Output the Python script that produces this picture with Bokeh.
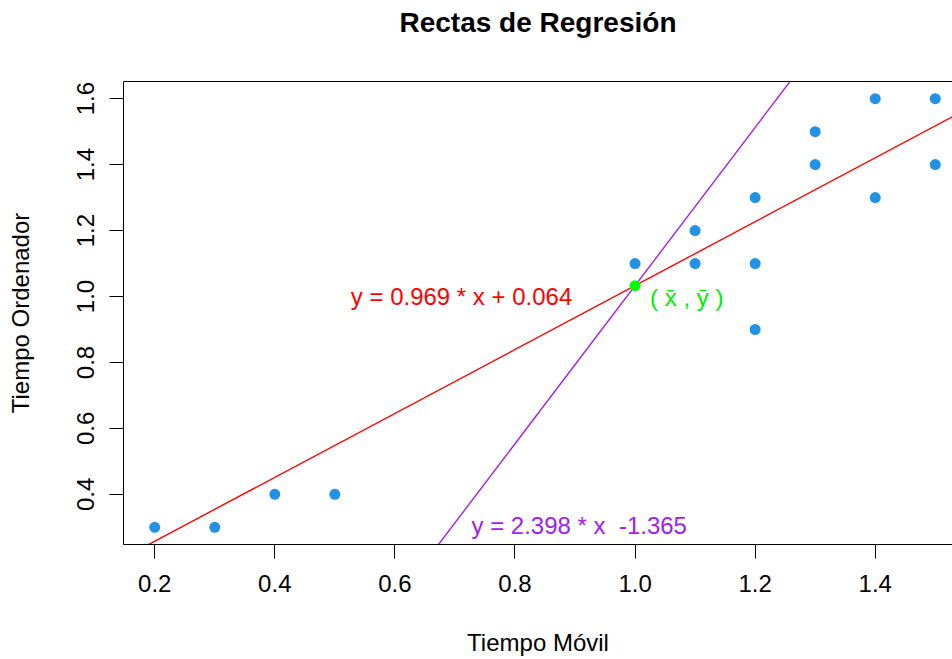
from bokeh.plotting import figure
from bokeh.models import Range1d, FixedTicker, LinearAxis, ColumnDataSource
from bokeh.core.properties import value
from bokeh.embed import file_html
from bokeh.resources import INLINE

# ---- data ----
tiempo_movil = [0.2, 0.3, 0.4, 0.5, 1.0, 1.1, 1.1, 1.2, 1.2, 1.2, 1.3, 1.3, 1.4, 1.4, 1.5, 1.5]
tiempo_ordenador = [0.3, 0.3, 0.4, 0.4, 1.1, 1.2, 1.1, 1.3, 1.1, 0.9, 1.5, 1.4, 1.6, 1.3, 1.6, 1.4]
media_x = [1.0]
media_y = [1.033]
pendientes = [0.969, 2.398]
interceptos = [0.064, -1.365]
colores_rectas = ["#FF0000", "#A020F0"]
etiquetas_rectas = ["y = 0.969 * x + 0.064", "y = 2.398 * x\u00a0 -1.365"]
etiqueta_x = [0.711, 0.907]
etiqueta_y = [1.0, 0.305]
etiqueta_media = ["( x\u0304 , y\u0304 )"]
x_ticks = [0.2, 0.4, 0.6, 0.8, 1.0, 1.2, 1.4]
x_tick_labels = ["0.2", "0.4", "0.6", "0.8", "1.0", "1.2", "1.4"]
y_ticks = [0.4, 0.6, 0.8, 1.0, 1.2, 1.4, 1.6]
y_tick_labels = ["0.4", "0.6", "0.8", "1.0", "1.2", "1.4", "1.6"]

FONT = "Liberation Sans"
X0, X1 = 0.148, 1.5287
Y0, Y1 = 0.248, 1.652

p = figure(width=952, height=659, output_backend="svg", toolbar_location=None,
           x_range=Range1d(X0, X1), y_range=Range1d(Y0, Y1),
           min_border_left=123, min_border_right=0, min_border_top=81, min_border_bottom=115,
           title="Rectas de Regresión", x_axis_label="Tiempo Móvil", y_axis_label="Tiempo Ordenador")

p.outline_line_color = None
p.xgrid.visible = False
p.ygrid.visible = False
p.background_fill_color = "white"
p.border_fill_color = "white"

p.title.align = "center"
p.title.text_font = FONT
p.title.text_font_size = "28px"
p.title.text_font_style = "bold"
p.title.text_color = "black"
p.title.standoff = 0

def style_axis(ax, ticks, labels):
    ax.ticker = FixedTicker(ticks=ticks)
    ax.major_label_overrides = {t: l for t, l in zip(ticks, labels)}
    ax.minor_tick_line_color = None
    ax.major_tick_in = 0
    ax.major_tick_out = 14
    ax.major_tick_line_color = "black"
    ax.axis_line_color = "black"
    ax.major_label_text_font = FONT
    ax.major_label_text_font_size = "24px"
    ax.major_label_text_color = "black"
    ax.axis_label_text_font = FONT
    ax.axis_label_text_font_size = "24px"
    ax.axis_label_text_font_style = "normal"
    ax.axis_label_text_color = "black"

xa = p.xaxis[0]
style_axis(xa, x_ticks, x_tick_labels)
xa.major_label_standoff = 16
xa.axis_label_standoff = 34

ya = p.yaxis[0]
style_axis(ya, y_ticks, y_tick_labels)
ya.major_label_orientation = "vertical"
ya.major_label_standoff = 15
ya.axis_label_standoff = 41

# top border of the box; its (invisible) label only reserves space under the title
top = LinearAxis(ticker=FixedTicker(ticks=[]), major_tick_line_color=None,
                 minor_tick_line_color=None, major_tick_out=0, major_label_standoff=0,
                 major_label_text_font_size="0px", axis_line_color="black",
                 axis_label="\u00a0", axis_label_text_font_size="24px",
                 axis_label_text_color=None, axis_label_standoff=14)
p.add_layout(top, "above")

# points
p.scatter(tiempo_movil, tiempo_ordenador, size=11, color="#2292E6", line_color=None)

# regression lines
seg = ColumnDataSource(dict(
    x0=[X0, X0], x1=[X1, X1],
    y0=[m * X0 + b for m, b in zip(pendientes, interceptos)],
    y1=[m * X1 + b for m, b in zip(pendientes, interceptos)],
    color=colores_rectas))
p.segment(x0="x0", y0="y0", x1="x1", y1="y1", color="color", line_width=1.4, source=seg)

# mean point
p.scatter(media_x, media_y, size=11, color="#00FF00", line_color=None)

lab = ColumnDataSource(dict(x=etiqueta_x, y=etiqueta_y, text=etiquetas_rectas, color=colores_rectas))
p.text(x="x", y="y", text="text", text_color="color", source=lab,
       text_align="center", text_baseline="middle",
       text_font=value(FONT), text_font_size="24px")

p.text(x=media_x, y=media_y, text=etiqueta_media, text_color="#00EE00",
       x_offset=15, y_offset=12, text_align="left", text_baseline="middle",
       text_font=value(FONT), text_font_size="24px")

open("out.html", "w").write(file_html(p, INLINE))
